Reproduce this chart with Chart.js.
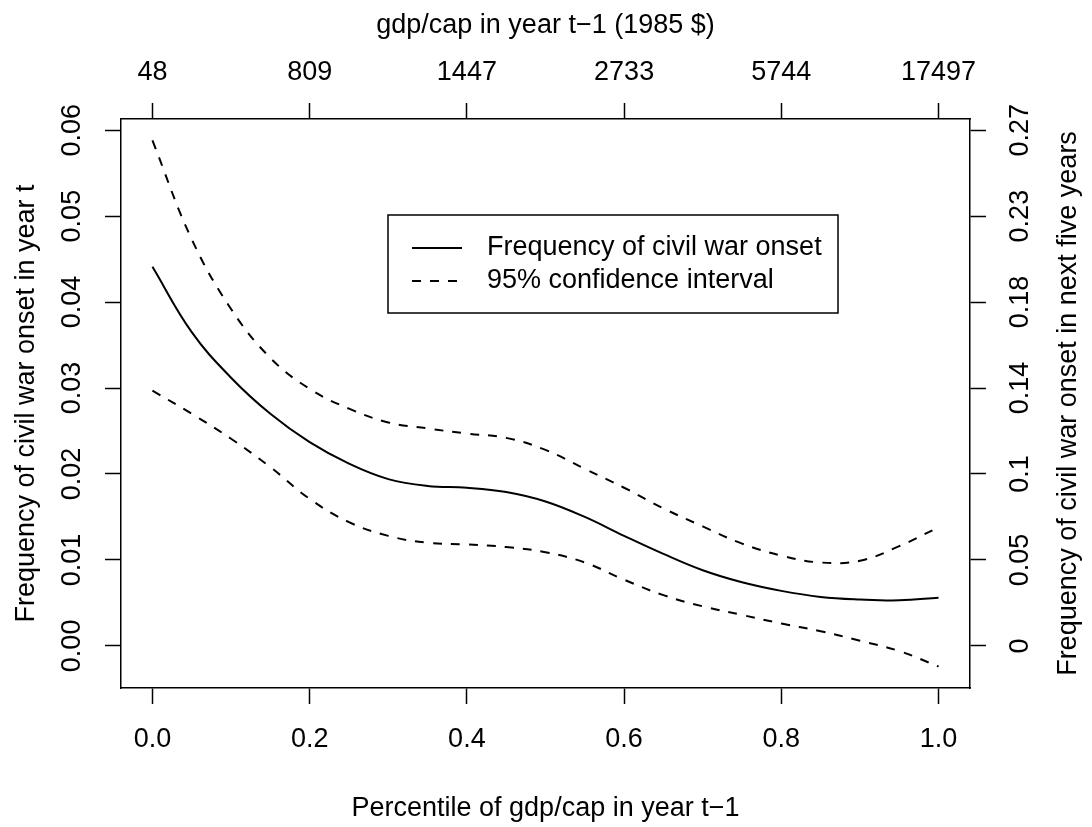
<!DOCTYPE html>
<html>
<head>
<meta charset="utf-8">
<script src="https://cdn.jsdelivr.net/npm/chart.js@4"></script>
<style>
  body { margin: 0; background: #fff; }
</style>
</head>
<body>
<canvas id="warChart" width="1092" height="827"></canvas>
<script>
// Percentile of gdp/cap (x) and estimated onset frequency with 95% band
const percentiles = [0, 0.05, 0.1, 0.15, 0.2, 0.25, 0.3, 0.35, 0.4, 0.45, 0.5,
                     0.55, 0.6, 0.65, 0.7, 0.75, 0.8, 0.85, 0.9, 0.95, 1];
const onsetFreq = [0.0441, 0.0365, 0.0312, 0.0270, 0.0237, 0.0212, 0.0194, 0.0186, 0.0184, 0.0179, 0.0168,
                   0.0150, 0.0128, 0.0107, 0.0088, 0.0074, 0.0064, 0.0057, 0.0054, 0.0053, 0.0056];
const upperCI = [0.0588, 0.0473, 0.0392, 0.0335, 0.0299, 0.0276, 0.0260, 0.0253, 0.0247, 0.0242, 0.0228,
                 0.0206, 0.0184, 0.0160, 0.0139, 0.0119, 0.0105, 0.0097, 0.0099, 0.0116, 0.0138];
const lowerCI = [0.0297, 0.0270, 0.0241, 0.0208, 0.0171, 0.0144, 0.0128, 0.0120, 0.0118, 0.0115, 0.0109,
                 0.0097, 0.0077, 0.0059, 0.0046, 0.0036, 0.0026, 0.0017, 0.0006, -0.0006, -0.0024];

// axis ticks
const bottomTickValues = [0, 0.2, 0.4, 0.6, 0.8, 1];
const bottomTickLabels = ['0.0', '0.2', '0.4', '0.6', '0.8', '1.0'];
const topTickLabels = ['48', '809', '1447', '2733', '5744', '17497'];
const leftTickValues = [0, 0.01, 0.02, 0.03, 0.04, 0.05, 0.06];
const leftTickLabels = ['0.00', '0.01', '0.02', '0.03', '0.04', '0.05', '0.06'];
const rightTickLabels = ['0', '0.05', '0.1', '0.14', '0.18', '0.23', '0.27'];

const rightTitle = 'Frequency of civil war onset in next five years';

const FONT = "'Liberation Sans', Arial, Helvetica, sans-serif";
Chart.defaults.font.family = FONT;
Chart.defaults.font.size = 27;
Chart.defaults.color = '#000';

function toPoints(ys) {
    return ys.map((y, i) => ({ x: percentiles[i], y: y }));
}

function fixedTicks(values) {
    return function(scale) {
        scale.ticks = values.map(v => ({ value: v }));
    };
}

const tickGrid = { drawOnChartArea: false, tickLength: 16, tickColor: '#000', tickWidth: 1.5 };
const axisBorder = { color: '#000', width: 1.5 };

// legend box + right title (R style, drawn inside the plot)
const extraText = {
    id: 'extraText',
    afterDraw(chart) {
        const ctx = chart.ctx;
        const area = chart.chartArea;
        ctx.save();
        ctx.font = '27px ' + FONT;
        ctx.fillStyle = '#000';
        ctx.translate(1069, (area.top + area.bottom) / 2);
        ctx.rotate(-Math.PI / 2);
        ctx.textAlign = 'center';
        ctx.textBaseline = 'middle';
        ctx.fillText(rightTitle, 0, 0);
        ctx.restore();

        const box = { x: 388, y: 215, w: 450, h: 98 };
        ctx.save();
        ctx.strokeStyle = '#000';
        ctx.lineWidth = 1.5;
        ctx.strokeRect(box.x, box.y, box.w, box.h);
        ctx.font = '27px ' + FONT;
        ctx.textBaseline = 'middle';
        ctx.fillStyle = '#000';
        const items = chart.data.datasets.slice(0, 2);
        items.forEach((ds, i) => {
            const ly = box.y + 33 + i * 33;
            ctx.beginPath();
            ctx.setLineDash(ds.borderDash || []);
            ctx.lineWidth = ds.borderWidth;
            ctx.moveTo(box.x + 24, ly);
            ctx.lineTo(box.x + 74, ly);
            ctx.stroke();
            ctx.setLineDash([]);
            ctx.fillText(ds.label, box.x + 99, ly);
        });
        ctx.restore();
    }
};

const config = {
    type: 'line',
    data: {
        datasets: [{
            label: 'Frequency of civil war onset',
            data: toPoints(onsetFreq),
            borderColor: '#000',
            borderWidth: 2,
            pointRadius: 0,
            tension: 0.4
        }, {
            label: '95% confidence interval',
            data: toPoints(upperCI),
            borderColor: '#000',
            borderWidth: 2,
            borderDash: [9, 9],
            pointRadius: 0,
            tension: 0.4
        }, {
            label: '95% lower',
            data: toPoints(lowerCI),
            borderColor: '#000',
            borderWidth: 2,
            borderDash: [9, 9],
            pointRadius: 0,
            tension: 0.4
        }]
    },
    options: {
        responsive: false,
        animation: false,
        layout: { padding: 0 },
        plugins: {
            legend: { display: false },
            tooltip: { enabled: false }
        },
        scales: {
            x: {
                type: 'linear',
                position: 'bottom',
                min: -0.04,
                max: 1.04,
                afterBuildTicks: fixedTicks(bottomTickValues),
                afterFit: s => { s.height = 139; },
                ticks: {
                    autoSkip: false,
                    maxRotation: 0,
                    padding: 19,
                    callback: (v, i) => bottomTickLabels[i]
                },
                grid: tickGrid,
                border: axisBorder,
                title: {
                    display: true,
                    text: 'Percentile of gdp/cap in year t\u22121',
                    padding: { top: 0, bottom: 2 }
                }
            },
            x2: {
                type: 'linear',
                position: 'top',
                min: -0.04,
                max: 1.04,
                afterBuildTicks: fixedTicks(bottomTickValues),
                afterFit: s => { s.height = 119; },
                ticks: {
                    autoSkip: false,
                    maxRotation: 0,
                    padding: 14,
                    callback: (v, i) => topTickLabels[i]
                },
                grid: tickGrid,
                border: axisBorder,
                title: {
                    display: true,
                    text: 'gdp/cap in year t\u22121 (1985 $)',
                    padding: { top: 9, bottom: 0 }
                }
            },
            y: {
                type: 'linear',
                position: 'left',
                min: -0.0049,
                max: 0.0613,
                afterBuildTicks: fixedTicks(leftTickValues),
                afterFit: s => { s.width = 121; },
                ticks: {
                    autoSkip: false,
                    minRotation: 90,
                    maxRotation: 90,
                    crossAlign: 'center',
                    padding: 6,
                    callback: (v, i) => leftTickLabels[i]
                },
                grid: tickGrid,
                border: axisBorder,
                title: {
                    display: true,
                    text: 'Frequency of civil war onset in year t',
                    padding: { top: 10, bottom: 0 }
                }
            },
            y2: {
                type: 'linear',
                position: 'right',
                min: -0.0049,
                max: 0.0613,
                afterBuildTicks: fixedTicks(leftTickValues),
                afterFit: s => { s.width = 122; },
                ticks: {
                    autoSkip: false,
                    minRotation: 90,
                    maxRotation: 90,
                    crossAlign: 'center',
                    padding: 8,
                    callback: (v, i) => rightTickLabels[i]
                },
                grid: tickGrid,
                border: axisBorder
            }
        }
    },
    plugins: [extraText]
};

window.onload = function() {
    const ctx = document.getElementById('warChart').getContext('2d');
    new Chart(ctx, config);
};
</script>
</body>
</html>
